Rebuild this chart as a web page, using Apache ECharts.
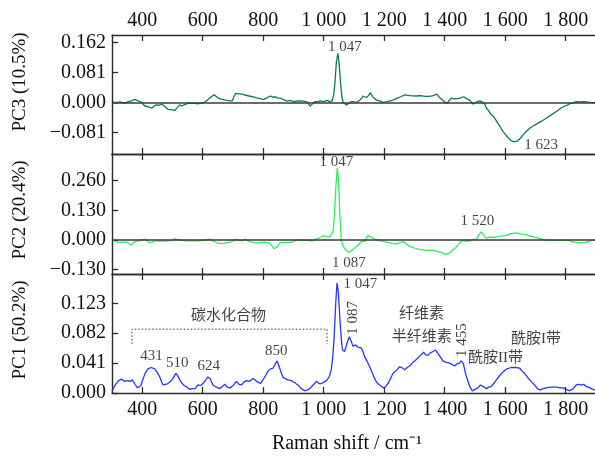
<!DOCTYPE html>
<html><head><meta charset="utf-8">
<script src="https://cdn.jsdelivr.net/npm/echarts@6/dist/echarts.min.js"></script>
<style>html,body{margin:0;padding:0;background:#fff}#c{width:595px;height:458px}</style>
</head><body><div id="c"></div>
<script>
// ---------- data ----------
const xTicks = [400, 600, 800, 1000, 1200, 1400, 1600, 1800];
const pc3Ticks = [-0.081, 0, 0.081, 0.162];
const pc2Ticks = [-0.13, 0, 0.13, 0.26];
const pc1Ticks = [0, 0.041, 0.082, 0.123];

const pc3X = [305,314,326,343,353,365,375,381,387,394,409,420,431,440,447,455,463,470,485,496,507,515,524,532,540,551,565,584,595,605,614,622,630,638,646,655,665,676,690,698,703,709,720,731,742,753,765,781,790,802,812,824,832,840,848,857,867,879,890,901,915,933,945,955,963,972,980,988,1000,1010,1020,1028,1033,1037,1042,1047,1051,1056,1060,1064,1070,1075,1083,1091,1100,1108,1118,1125,1130,1136,1141,1148,1154,1161,1168,1175,1185,1196,1210,1229,1245,1255,1268,1285,1306,1320,1335,1350,1362,1374,1384,1394,1408,1415,1422,1430,1438,1450,1463,1472,1483,1494,1505,1516,1527,1533,1538,1545,1552,1560,1568,1576,1585,1593,1600,1609,1618,1626,1634,1642,1650,1659,1670,1681,1692,1703,1720,1736,1752,1769,1784,1797,1805,1813,1825,1835,1845,1857,1870,1880,1897];
const pc3Y = [0,-0.002,0.001,-0.003,0.002,0.004,0.008,0.012,0.004,0.002,-0.010,-0.012,-0.016,-0.010,-0.007,-0.008,-0.005,-0.008,-0.019,-0.020,-0.022,-0.015,-0.007,-0.010,-0.006,-0.003,-0.002,-0.004,-0.002,0,0.005,0.011,0.016,0.020,0.015,0.010,0.008,0.006,0.004,0.004,0.015,0.024,0.023,0.022,0.019,0.017,0.015,0.011,0.010,0.008,0.012,0.017,0.014,0.015,0.011,0.011,0.007,0.003,0.005,0.002,0.004,0.003,0.001,-0.010,-0.004,0.002,0.001,0.004,0.002,0.005,0.002,0.004,0.020,0.051,0.110,0.132,0.105,0.050,0.015,0,-0.005,-0.007,-0.003,0.002,0.001,0,0.005,0.010,0.017,0.012,0.013,0.018,0.026,0.016,0.010,0.006,0.004,0,0.002,0.006,0.012,0.015,0.020,0.018,0.017,0.018,0.016,0.016,0.018,0.022,0.012,0.005,-0.003,0.005,0.011,0.009,0.009,0.011,0.015,0.010,0.006,-0.005,0.001,0.004,0,-0.006,-0.016,-0.022,-0.032,-0.037,-0.046,-0.057,-0.068,-0.079,-0.086,-0.095,-0.102,-0.106,-0.106,-0.104,-0.097,-0.088,-0.079,-0.070,-0.064,-0.059,-0.051,-0.043,-0.034,-0.025,-0.016,-0.010,-0.008,-0.004,-0.001,0.002,0.001,0.002,0.001,0,-0.001];

const pc2X = [305,314,320,331,342,353,364,375,381,392,408,415,425,435,447,457,468,480,496,507,513,520,530,545,560,580,595,610,623,633,645,657,667,680,690,700,711,720,729,739,750,763,775,790,800,810,821,830,837,841,848,855,860,870,878,886,893,905,915,930,943,955,965,975,981,990,998,1008,1020,1026,1031,1036,1040,1045,1049,1053,1058,1064,1069,1077,1084,1090,1097,1108,1116,1124,1135,1141,1146,1152,1160,1168,1180,1196,1212,1229,1240,1246,1255,1262,1272,1284,1300,1317,1328,1339,1355,1365,1378,1394,1402,1408,1418,1427,1438,1449,1455,1461,1470,1482,1490,1505,1512,1521,1530,1538,1546,1554,1565,1576,1590,1604,1618,1631,1645,1659,1672,1686,1700,1719,1733,1747,1770,1791,1802,1813,1825,1846,1860,1868,1880,1897];
const pc2Y = [0,-0.008,-0.010,-0.011,-0.008,-0.012,-0.022,-0.008,-0.003,-0.003,0.004,-0.002,-0.013,-0.008,-0.002,-0.006,-0.003,-0.006,-0.002,0.005,0.009,0.002,-0.002,-0.004,-0.003,-0.004,-0.003,0,0.004,-0.004,-0.011,-0.015,-0.016,-0.012,-0.010,-0.004,0.004,-0.002,-0.004,0.004,-0.004,-0.010,-0.013,-0.011,-0.010,-0.011,-0.015,-0.028,-0.038,-0.042,-0.028,-0.012,-0.006,-0.010,-0.013,-0.010,-0.010,-0.003,0.002,-0.002,-0.001,-0.004,-0.004,0.005,0.009,0.012,0.019,0.016,0.013,0.020,0.038,0.120,0.230,0.315,0.260,0.120,0,-0.028,-0.035,-0.048,-0.054,-0.050,-0.042,-0.028,-0.020,-0.006,-0.006,0.008,0.019,0.022,0.010,0.004,0,-0.006,-0.010,-0.016,-0.018,-0.020,-0.010,-0.007,-0.015,-0.028,-0.035,-0.042,-0.043,-0.045,-0.044,-0.047,-0.050,-0.057,-0.063,-0.066,-0.055,-0.043,-0.032,-0.013,-0.006,-0.001,-0.006,-0.004,0.002,0.004,0.020,0.036,0.018,0.008,0.012,0.013,0.012,0.016,0.018,0.020,0.027,0.031,0.029,0.025,0.022,0.016,0.011,0.005,0,-0.002,-0.002,-0.002,-0.001,-0.003,-0.009,-0.013,-0.011,-0.010,-0.004,0];

const pc1X = [300,308,314,322,331,342,353,360,367,373,378,384,389,395,403,411,419,430,441,450,458,464,469,477,485,494,502,511,517,524,532,540,548,557,564,568,575,584,592,601,610,617,624,634,645,656,665,673,681,689,700,711,720,728,736,744,755,766,775,783,791,799,808,816,824,832,840,846,853,860,866,871,882,893,904,915,926,937,945,954,965,976,985,992,1000,1009,1018,1025,1030,1034,1040,1044,1048,1053,1058,1062,1069,1077,1084,1090,1097,1105,1113,1124,1130,1135,1143,1152,1160,1168,1176,1185,1198,1205,1213,1220,1229,1240,1251,1258,1268,1276,1284,1295,1306,1318,1330,1338,1345,1352,1362,1370,1380,1394,1405,1416,1425,1433,1441,1449,1455,1462,1470,1477,1484,1491,1500,1510,1518,1524,1531,1538,1546,1554,1562,1571,1582,1593,1605,1620,1634,1648,1656,1664,1675,1686,1697,1705,1714,1725,1736,1748,1758,1770,1780,1791,1802,1813,1825,1835,1843,1852,1860,1868,1880,1890,1897];
const pc1Y = [0.003,0.009,0.013,0.017,0.019,0.016,0.017,0.016,0.018,0.016,0.011,0.007,0.005,0.010,0.020,0.028,0.033,0.035,0.033,0.028,0.022,0.015,0.011,0.012,0.013,0.016,0.020,0.027,0.024,0.018,0.013,0.010,0.008,0.005,0.006,0.004,0.006,0.011,0.010,0.013,0.018,0.022,0.020,0.011,0.008,0.006,0.009,0.012,0.008,0.007,0.010,0.016,0.012,0.011,0.015,0.017,0.016,0.020,0.017,0.015,0.013,0.018,0.024,0.030,0.033,0.034,0.040,0.044,0.036,0.027,0.021,0.019,0.018,0.017,0.014,0.011,0.006,0.003,0.004,0.006,0.011,0.016,0.013,0.013,0.015,0.017,0.022,0.032,0.050,0.073,0.125,0.151,0.140,0.105,0.075,0.059,0.057,0.068,0.077,0.072,0.064,0.066,0.063,0.062,0.057,0.050,0.044,0.036,0.028,0.020,0.014,0.011,0.007,0.009,0.013,0.019,0.027,0.031,0.036,0.035,0.032,0.035,0.037,0.042,0.046,0.051,0.056,0.052,0.052,0.055,0.057,0.059,0.053,0.044,0.042,0.041,0.039,0.037,0.040,0.041,0.044,0.040,0.025,0.016,0.008,0.003,0.005,0.007,0.011,0.013,0.008,0.006,0.008,0.009,0.013,0.018,0.024,0.029,0.033,0.035,0.035,0.034,0.030,0.027,0.021,0.016,0.011,0.007,0.004,0.006,0.007,0.008,0.008,0.008,0.007,0.007,0.005,0.003,0.006,0.011,0.012,0.011,0.012,0.009,0.007,0.005,0.004];

// annotations: [text, x, y, rotate]
const pc3Notes = [["1 047", 1070, 0.149, 0], ["1 623", 1719, -0.115, 0]];
const pc2Notes = [["1 047", 1042, 0.341, 0], ["1 520", 1508, 0.085, 0], ["1 087", 1083, -0.101, 0]];
const pc1Notes = [["1 047", 1121, 0.150, 0], ["1 087", 1096, 0.103, 90], ["纤维素", 1323, 0.109, 0], ["半纤维素", 1324, 0.0773, 0],
  ["1 455", 1456, 0.0725, 90], ["酰胺II带", 1568, 0.0477, 0], ["酰胺I带", 1702, 0.0739, 0], ["碳水化合物", 685, 0.106, 0],
  ["431", 431, 0.0512, 0], ["510", 516, 0.0409, 0], ["624", 620, 0.0367, 0], ["850", 843, 0.0581, 0]];
const bracketX = [366, 366, 1011, 1011];
const bracketY = [0.0674, 0.0876, 0.0876, 0.0674];

const yNames = ["PC3 (10.5%)", "PC2 (20.4%)", "PC1 (50.2%)"];
const xName = "Raman shift / cm\u207B\u00B9";

// ---------- chart ----------
const FONT = "'Liberation Serif', 'Noto Sans CJK SC', serif";
const AX = '#2b2b2b';
const XMIN = 300, XMAX = 1897;
const fmtX = v => v >= 1000 ? Math.floor(v / 1000) + ' ' + String(v % 1000).padStart(3, '0') : String(v);
const fmtY = v => v.toFixed(3).replace('-', '\u2212');

const grids = [
  {left: 112, right: 0, top: 35, height: 119},
  {left: 112, right: 0, top: 154, height: 120},
  {left: 112, right: 0, top: 274, height: 119}
];

function xAxis(grid, pos, showLabel) {
  return {
    type: 'value', gridIndex: grid, position: pos, min: XMIN, max: XMAX,
    axisLine: {show: true, onZero: false, lineStyle: {color: AX, width: 1.4}},
    axisTick: {show: true, inside: true, length: 6, customValues: xTicks, lineStyle: {color: AX, width: 1.3}},
    axisLabel: {show: showLabel, customValues: xTicks, formatter: fmtX, fontFamily: FONT, fontSize: 20, color: '#111',
      margin: pos === 'top' ? 4 : 7},
    splitLine: {show: false}
  };
}
function yAxis(grid, min, max, ticks) {
  return {
    type: 'value', gridIndex: grid, min: min, max: max,
    axisLine: {show: true, onZero: false, lineStyle: {color: AX, width: 1.4}},
    axisTick: {show: true, inside: true, length: 6, customValues: ticks, lineStyle: {color: AX, width: 1.3}},
    axisLabel: {customValues: ticks, formatter: fmtY, fontFamily: FONT, fontSize: 20, color: '#111', margin: 6},
    splitLine: {show: false}
  };
}
const zip = (a, b) => a.map((v, i) => [v, b[i]]);
function spectrum(idx, xs, ys, color, zero) {
  const s = {
    type: 'line', xAxisIndex: idx * 2, yAxisIndex: idx, data: zip(xs, ys), showSymbol: false, symbol: 'none',
    lineStyle: {color: color, width: 1.3}, silent: true, animation: false, z: 3
  };
  if (zero) s.markLine = {silent: true, symbol: 'none', label: {show: false}, animation: false,
    lineStyle: {color: '#3a3a3a', width: 1.6, type: 'solid'}, data: [{yAxis: 0}]};
  return s;
}
function notes(idx, list) {
  return {
    type: 'scatter', xAxisIndex: idx * 2, yAxisIndex: idx, symbolSize: 0, silent: true, animation: false, z: 5,
    data: list.map(n => ({value: [n[1], n[2]], name: n[0],
      label: {show: true, position: 'inside', formatter: n[0], rotate: n[3], fontFamily: FONT, fontSize: 15, color: '#111'}}))
  };
}

const chart = echarts.init(document.getElementById('c'), null, {renderer: 'canvas'});
chart.setOption({
  animation: false,
  backgroundColor: '#fff',
  grid: grids,
  xAxis: [xAxis(0, 'bottom', false), xAxis(0, 'top', true),
          xAxis(1, 'bottom', false), xAxis(1, 'top', false),
          xAxis(2, 'bottom', true), xAxis(2, 'top', false)],
  yAxis: [yAxis(0, -0.1396, 0.1817, pc3Ticks), yAxis(1, -0.1488, 0.3764, pc2Ticks), yAxis(2, 0, 0.1633, pc1Ticks)],
  series: [
    spectrum(0, pc3X, pc3Y, '#0b7a62', true),
    spectrum(1, pc2X, pc2Y, '#2df05a', true),
    spectrum(2, pc1X, pc1Y, '#2a35ff', false),
    {type: 'line', xAxisIndex: 4, yAxisIndex: 2, data: zip(bracketX, bracketY), showSymbol: false, symbol: 'none', silent: true,
      lineStyle: {color: '#333', width: 1, type: [1.5, 2]}, z: 4},
    notes(0, pc3Notes), notes(1, pc2Notes), notes(2, pc1Notes)
  ],
  graphic: [
    {type: 'text', x: 20, y: 82, rotation: Math.PI / 2, style: {text: yNames[0], font: '19px ' + FONT, fill: '#111', align: 'center', verticalAlign: 'middle'}},
    {type: 'text', x: 20, y: 210, rotation: Math.PI / 2, style: {text: yNames[1], font: '19px ' + FONT, fill: '#111', align: 'center', verticalAlign: 'middle'}},
    {type: 'text', x: 20, y: 330, rotation: Math.PI / 2, style: {text: yNames[2], font: '19px ' + FONT, fill: '#111', align: 'center', verticalAlign: 'middle'}},
    {type: 'text', x: 347, y: 444, style: {text: xName, font: '20px ' + FONT, fill: '#111', align: 'center', verticalAlign: 'middle'}}
  ]
});
</script></body></html>
